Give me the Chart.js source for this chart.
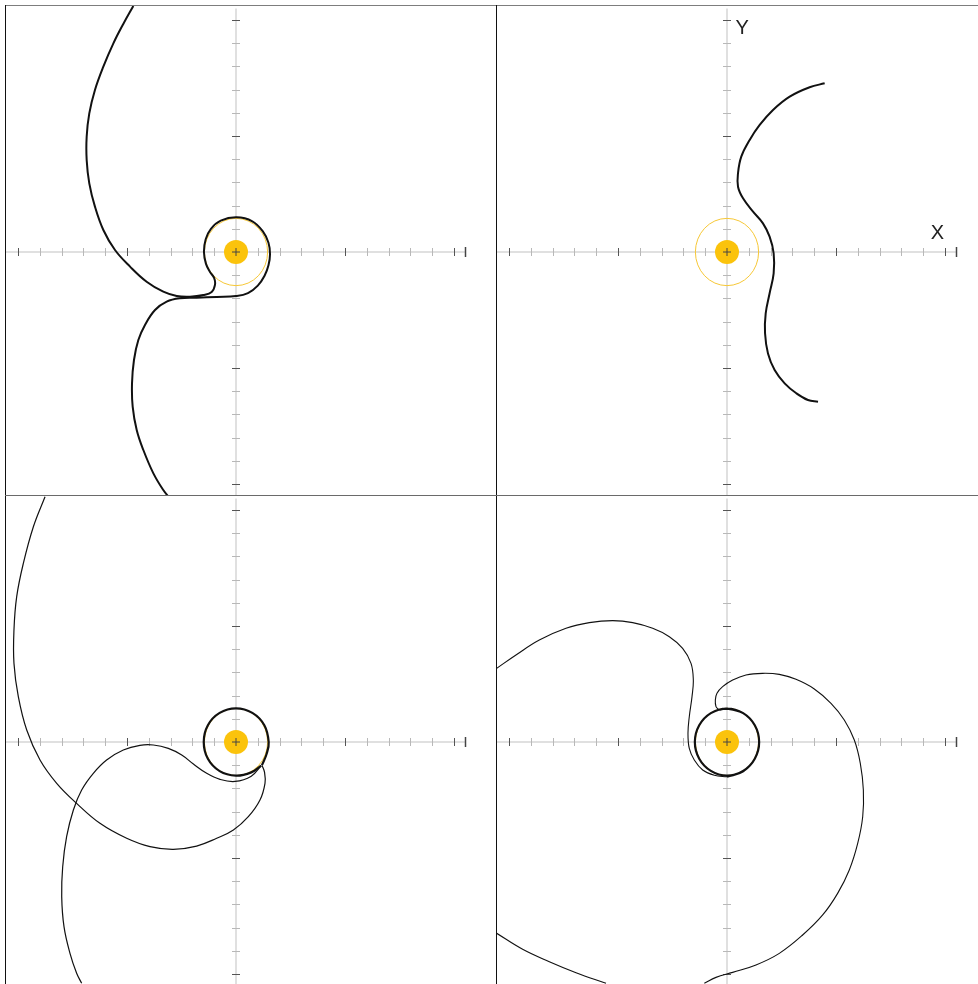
<!DOCTYPE html>
<html>
<head>
<meta charset="utf-8">
<script src="https://cdn.jsdelivr.net/npm/chart.js@4.4.1/dist/chart.umd.min.js"></script>
<style>
  html, body { margin: 0; padding: 0; background: #fff; overflow: hidden; }
  #wrap { position: relative; width: 978px; height: 984px; overflow: hidden; }
  #wrap canvas { position: absolute; }
  .rule { position: absolute; z-index: 2; }
</style>
</head>
<body>
<div id="wrap">
  <canvas id="p1" width="490" height="489" style="left:6px;top:6px"></canvas>
  <canvas id="p2" width="490" height="489" style="left:497px;top:6px"></canvas>
  <canvas id="p3" width="490" height="489" style="left:6px;top:496px"></canvas>
  <canvas id="p4" width="490" height="489" style="left:497px;top:496px"></canvas>
  <div class="rule" style="left:5px;top:5px;width:973px;height:1px;background:#7d7d7d"></div>
  <div class="rule" style="left:5px;top:5px;width:1px;height:979px;background:#111"></div>
  <div class="rule" style="left:496px;top:5px;width:1px;height:979px;background:#111"></div>
  <div class="rule" style="left:5px;top:495px;width:973px;height:1px;background:#6a6a6a"></div>
</div>
<script>
// axis ticks (same for x and y), major ones are darker
const tickValues = [-2, -1.8, -1.6, -1.4, -1.2, -1, -0.8, -0.6, -0.4, -0.2, 0,
                    0.2, 0.4, 0.6, 0.8, 1, 1.2, 1.4, 1.6, 1.8, 2];
const majorTicks = [-2, -1, 1, 2];
const axisEnd = 2.1;
const orbitRadius = 0.29;
const sunPoint = [[0, 0]];

// panel 1 (top left)
const p1Path = [
  [-0.942, 2.121], [-1.034, 1.966], [-1.125, 1.799], [-1.217, 1.598], [-1.294, 1.397],
  [-1.346, 1.195], [-1.370, 0.994], [-1.370, 0.793], [-1.346, 0.592], [-1.294, 0.391],
  [-1.217, 0.190], [-1.110, 0.017], [-0.972, -0.126], [-0.820, -0.256], [-0.667, -0.342],
  [-0.544, -0.379], [-0.422, -0.385], [-0.300, -0.371], [-0.223, -0.345], [-0.193, -0.284],
  [-0.200, -0.225], [-0.240, -0.170], [-0.276, -0.100], [-0.294, 0.000], [-0.278, 0.110],
  [-0.230, 0.200], [-0.140, 0.270], [0.005, 0.299], [0.150, 0.265], [0.245, 0.180],
  [0.298, 0.080], [0.312, -0.020], [0.298, -0.115], [0.262, -0.205], [0.200, -0.290],
  [0.110, -0.355], [0.000, -0.380], [-0.177, -0.387], [-0.361, -0.394], [-0.514, -0.399],
  [-0.636, -0.428], [-0.743, -0.500], [-0.835, -0.629], [-0.896, -0.759], [-0.936, -0.931],
  [-0.954, -1.132], [-0.948, -1.333], [-0.911, -1.534], [-0.850, -1.707], [-0.758, -1.908],
  [-0.667, -2.052], [-0.606, -2.124]
];

// panel 2 (top right)
const p2Path = [
  [0.896, 1.454], [0.758, 1.420], [0.575, 1.339], [0.422, 1.224], [0.300, 1.095],
  [0.208, 0.966], [0.131, 0.822], [0.101, 0.678], [0.101, 0.563], [0.147, 0.463],
  [0.239, 0.348], [0.330, 0.247], [0.391, 0.132], [0.428, -0.011], [0.428, -0.184],
  [0.391, -0.356], [0.355, -0.529], [0.349, -0.701], [0.376, -0.874], [0.437, -1.017],
  [0.529, -1.132], [0.636, -1.218], [0.743, -1.276], [0.835, -1.290]
];

// panel 3 (bottom left)
const p3Outer = [
  [-1.752, 2.115], [-1.859, 1.856], [-1.951, 1.540], [-2.012, 1.253], [-2.037, 0.966],
  [-2.037, 0.678], [-1.997, 0.391], [-1.920, 0.103], [-1.798, -0.155], [-1.645, -0.356],
  [-1.462, -0.529], [-1.248, -0.701], [-1.003, -0.830], [-0.789, -0.902], [-0.575, -0.925],
  [-0.361, -0.897], [-0.177, -0.830], [-0.024, -0.759], [0.113, -0.644], [0.220, -0.500],
  [0.266, -0.356], [0.262, -0.262], [0.238, -0.200]
];
const p3Loop = [
  [0.238, -0.200], [0.282, -0.099], [0.300, 0.000], [0.260, 0.145], [0.150, 0.251],
  [0.000, 0.290], [-0.150, 0.251], [-0.258, 0.145], [-0.296, 0.000], [-0.258, -0.145],
  [-0.150, -0.251], [0.000, -0.290], [0.140, -0.262], [0.230, -0.205]
];
const p3Inner = [
  [0.230, -0.205], [0.140, -0.295], [-0.009, -0.340], [-0.147, -0.322], [-0.269, -0.270],
  [-0.391, -0.190], [-0.498, -0.112], [-0.621, -0.055], [-0.758, -0.026], [-0.881, -0.029],
  [-1.034, -0.069], [-1.187, -0.155], [-1.309, -0.270], [-1.416, -0.414], [-1.492, -0.586],
  [-1.554, -0.816], [-1.590, -1.075], [-1.599, -1.333], [-1.578, -1.592], [-1.523, -1.822],
  [-1.462, -1.994], [-1.416, -2.080]
];

// panel 4 (bottom right)
const p4Upper = [
  [-2.113, 0.635], [-1.936, 0.750], [-1.722, 0.879], [-1.477, 0.980], [-1.263, 1.029],
  [-1.049, 1.046], [-0.865, 1.029], [-0.682, 0.980], [-0.529, 0.908], [-0.407, 0.807],
  [-0.330, 0.678], [-0.309, 0.534], [-0.321, 0.391], [-0.346, 0.218], [-0.358, 0.075],
  [-0.346, -0.055], [-0.300, -0.155], [-0.223, -0.241], [-0.116, -0.287], [0.000, -0.300]
];
const p4Loop = [
  [0.000, -0.300], [0.148, -0.252], [0.255, -0.144], [0.295, 0.000], [0.255, 0.144],
  [0.148, 0.249], [0.000, 0.288], [-0.148, 0.249], [-0.255, 0.144], [-0.295, 0.000],
  [-0.255, -0.144], [-0.148, -0.249], [0.000, -0.290], [0.148, -0.249], [0.255, -0.144],
  [0.295, 0.000], [0.255, 0.144], [0.148, 0.249], [0.000, 0.288], [-0.076, 0.278]
];
const p4Right = [
  [-0.076, 0.278], [-0.101, 0.305], [-0.107, 0.362], [-0.092, 0.420], [-0.040, 0.477],
  [0.052, 0.534], [0.174, 0.578], [0.327, 0.592], [0.480, 0.583], [0.633, 0.540],
  [0.801, 0.457], [0.954, 0.333], [1.076, 0.190], [1.168, 0.017], [1.223, -0.184],
  [1.251, -0.414], [1.245, -0.644], [1.199, -0.874], [1.122, -1.103], [1.015, -1.305],
  [0.878, -1.491], [0.694, -1.664], [0.480, -1.822], [0.266, -1.922], [0.052, -1.986],
  [-0.101, -2.029], [-0.208, -2.080]
];
const p4Lower = [
  [-2.113, -1.649], [-1.875, -1.787], [-1.630, -1.894], [-1.385, -1.989], [-1.110, -2.080]
];

const toXY = arr => arr.map(p => ({ x: p[0], y: p[1] }));

// draws the cross axes, tick marks, the orbit ring and the axis letters
const crossAxes = {
  id: 'crossAxes',
  beforeDatasetsDraw(chart, args, opts) {
    const { ctx } = chart;
    const xs = chart.scales.x, ys = chart.scales.y;
    const x0 = xs.getPixelForValue(0), y0 = ys.getPixelForValue(0);
    ctx.save();
    ctx.strokeStyle = '#d6d6d6';
    ctx.lineWidth = 1.5;
    ctx.beginPath();
    ctx.moveTo(xs.getPixelForValue(-axisEnd - 0.02), y0);
    ctx.lineTo(xs.getPixelForValue(axisEnd), y0);
    ctx.moveTo(x0, ys.getPixelForValue(axisEnd));
    ctx.lineTo(x0, ys.getPixelForValue(-axisEnd - 0.05));
    ctx.stroke();

    ctx.lineWidth = 1;
    tickValues.forEach(v => {
      if (v === 0) return;
      const major = majorTicks.includes(v);
      ctx.strokeStyle = major ? '#555' : '#b8b8b8';
      const px = Math.round(xs.getPixelForValue(v)) + 0.5;
      const py = Math.round(ys.getPixelForValue(v)) + 0.5;
      ctx.beginPath();
      ctx.moveTo(px, y0 - 4);
      ctx.lineTo(px, y0 + 4);
      ctx.moveTo(x0 - 4, py);
      ctx.lineTo(x0 + 4, py);
      ctx.stroke();
    });
    // end cap of the x axis
    ctx.strokeStyle = '#444';
    ctx.lineWidth = 1.5;
    const ex = Math.round(xs.getPixelForValue(axisEnd)) + 0.5;
    ctx.beginPath();
    ctx.moveTo(ex, y0 - 5);
    ctx.lineTo(ex, y0 + 5);
    ctx.stroke();

    // orbit ring
    ctx.strokeStyle = '#f6c736';
    ctx.lineWidth = 1;
    ctx.beginPath();
    ctx.ellipse(x0, y0, xs.getPixelForValue(orbitRadius) - x0,
                y0 - ys.getPixelForValue(orbitRadius), 0, 0, Math.PI * 2);
    ctx.stroke();
    ctx.restore();
  },
  afterDatasetsDraw(chart, args, opts) {
    if (!opts.labels) return;
    const { ctx } = chart;
    ctx.save();
    ctx.fillStyle = '#222';
    ctx.font = '20px "Liberation Sans", Arial, sans-serif';
    ctx.textAlign = 'center';
    ctx.textBaseline = 'middle';
    opts.labels.forEach(l => {
      ctx.fillText(l.text, chart.scales.x.getPixelForValue(l.x), chart.scales.y.getPixelForValue(l.y));
    });
    ctx.restore();
  }
};

const panels = [
  { id: 'p1', segments: [[p1Path, 2]] },
  { id: 'p2', segments: [[p2Path, 2]],
    labels: [{ text: 'X', x: 1.93, y: 0.16 }, { text: 'Y', x: 0.14, y: 1.93 }] },
  { id: 'p3', segments: [[p3Outer, 1.2], [p3Loop, 2.2], [p3Inner, 1.2]] },
  { id: 'p4', segments: [[p4Upper, 1.1], [p4Loop, 2.2], [p4Right, 1.1], [p4Lower, 1.1]] }
];

panels.forEach(p => {
  const datasets = p.segments.map(([pts, w]) => ({
    data: toXY(pts),
    showLine: true,
    borderColor: '#111',
    borderWidth: w,
    pointRadius: 0,
    tension: 0.4,
    order: 1
  }));
  datasets.push({
    data: toXY(sunPoint),
    pointRadius: 12,
    backgroundColor: '#fbc30c',
    borderWidth: 0,
    order: 2
  });
  datasets.push({
    data: toXY(sunPoint),
    pointStyle: 'cross',
    pointRadius: 4,
    borderColor: '#444',
    borderWidth: 1,
    order: 0
  });

  new Chart(document.getElementById(p.id), {
    type: 'scatter',
    data: { datasets },
    options: {
      responsive: false,
      animation: false,
      devicePixelRatio: 1,
      layout: { padding: 0, autoPadding: false },
      scales: {
        x: { type: 'linear', display: false, min: -230 / 109, max: 260 / 109 },
        y: { type: 'linear', display: false, min: -243 / 116, max: 246 / 116 }
      },
      plugins: {
        legend: { display: false },
        tooltip: { enabled: false },
        crossAxes: { labels: p.labels || null }
      }
    },
    plugins: [crossAxes]
  });
});
</script>
</body>
</html>
